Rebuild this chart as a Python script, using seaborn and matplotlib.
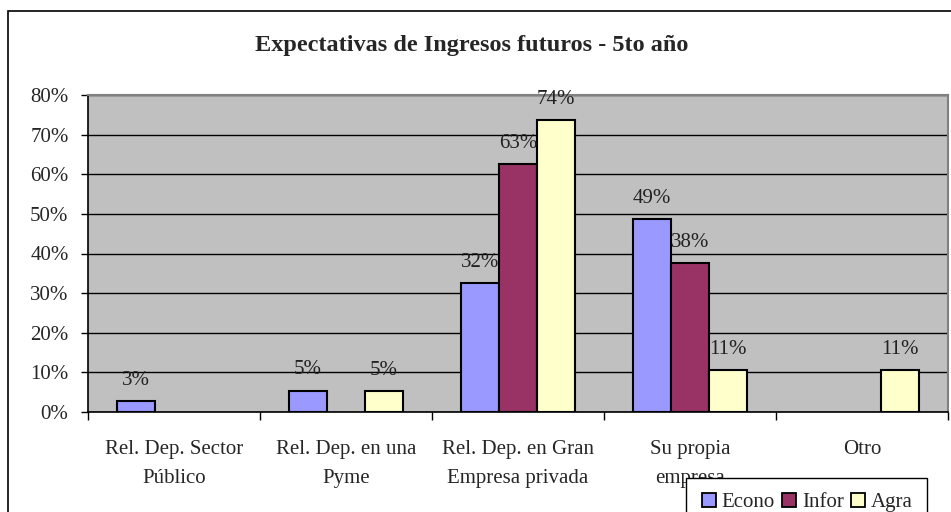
import math
import pandas as pd
import matplotlib.pyplot as plt
import seaborn as sns
from matplotlib.patches import Rectangle
from matplotlib.lines import Line2D

# Data (shares of students, %)
categories = ["Rel. Dep. Sector\nPúblico", "Rel. Dep. en una\nPyme",
              "Rel. Dep. en Gran\nEmpresa privada", "Su propia\nempresa", "Otro"]
series = ["Econo", "Infor", "Agra"]
econo = [2.70, 5.41, 32.43, 48.65, 0.0]
infor = [0.0, 0.0, 62.5, 37.5, 0.0]
agra = [0.0, 5.26, 73.68, 10.53, 10.53]
yticks = [0, 10, 20, 30, 40, 50, 60, 70, 80]

colors = {"Econo": "#9999FF", "Infor": "#993366", "Agra": "#FFFFCC"}

df = pd.DataFrame({
    "cat": categories * 3,
    "serie": ["Econo"] * 5 + ["Infor"] * 5 + ["Agra"] * 5,
    "val": econo + infor + agra,
})

sns.set_style("white")
plt.rcParams["font.family"] = ["Liberation Serif", "DejaVu Serif"]

fig = plt.figure(figsize=(9.51, 5.12), dpi=100)
ax = fig.add_axes([88 / 951, 1 - 412 / 512, (948 - 88) / 951, (412 - 95) / 512])
ax.set_facecolor("#C0C0C0")

sns.barplot(data=df, x="cat", y="val", hue="serie", order=categories,
            hue_order=series, palette=colors, edgecolor="black",
            linewidth=1.5, width=0.66, gap=0, saturation=1, ax=ax,
            legend=False, zorder=3)

# data labels, hide empty bars
for cont, vals in zip(ax.containers, [econo, infor, agra]):
    labels = [f"{math.floor(v + 0.5)}%" if v > 0 else "" for v in vals]
    for p, v in zip(cont.patches, vals):
        if v == 0:
            p.set_visible(False)
    ax.bar_label(cont, labels=labels, padding=8, fontsize=15, color="#222222")

ax.set_ylim(0, 80)
ax.set_xlim(-0.5, 4.5)
ax.set_yticks(yticks)
ax.set_yticklabels([f"{t}%" for t in yticks], fontsize=15)
ax.yaxis.grid(True, color="black", linewidth=1)
ax.set_axisbelow(True)
ax.set_xlabel("")
ax.set_ylabel("")

ax.set_xticks(range(5))
ax.set_xticklabels(categories, fontsize=15, linespacing=1.75)
ax.set_xticks([-0.5, 0.5, 1.5, 2.5, 3.5, 4.5], minor=True)
ax.tick_params(axis="x", which="major", length=0, pad=20)
ax.tick_params(axis="x", which="minor", length=6, width=1, direction="out", color="black", bottom=True)
ax.tick_params(axis="y", length=5, width=1, direction="out", color="black", left=True, pad=9)

for side in ["left", "bottom"]:
    ax.spines[side].set_color("black")
    ax.spines[side].set_linewidth(1.2)
for side in ["top", "right"]:
    ax.spines[side].set_visible(True)
    ax.spines[side].set_color("#808080")
    ax.spines[side].set_linewidth(1.5)

fig.text(472 / 951, 1 - 45 / 512, "Expectativas de Ingresos futuros - 5to año",
         ha="center", va="center", fontsize=17.5, fontweight="bold")

# outer chart border (runs off the right and bottom edge)
fig.add_artist(Rectangle((8 / 951, -0.1), 1.2, 1.1 - 11 / 512, transform=fig.transFigure,
                         fill=False, edgecolor="black", linewidth=1.2))

handles = [Line2D([], [], marker="s", linestyle="none", markersize=10,
                  markerfacecolor=colors[s], markeredgecolor="black", markeredgewidth=1.3)
           for s in series]
leg = fig.legend(handles, series, loc="upper left", bbox_to_anchor=(686 / 951, 1 - 478 / 512),
                 ncol=3, fontsize=15, frameon=True, fancybox=False, borderpad=0.7,
                 handletextpad=0.2, columnspacing=0.3, handlelength=0.8, borderaxespad=0)
leg.get_frame().set_edgecolor("black")
leg.get_frame().set_linewidth(1)
leg.get_frame().set_facecolor("white")
leg.get_frame().set_alpha(1)

fig.savefig("out.png", dpi=100)
